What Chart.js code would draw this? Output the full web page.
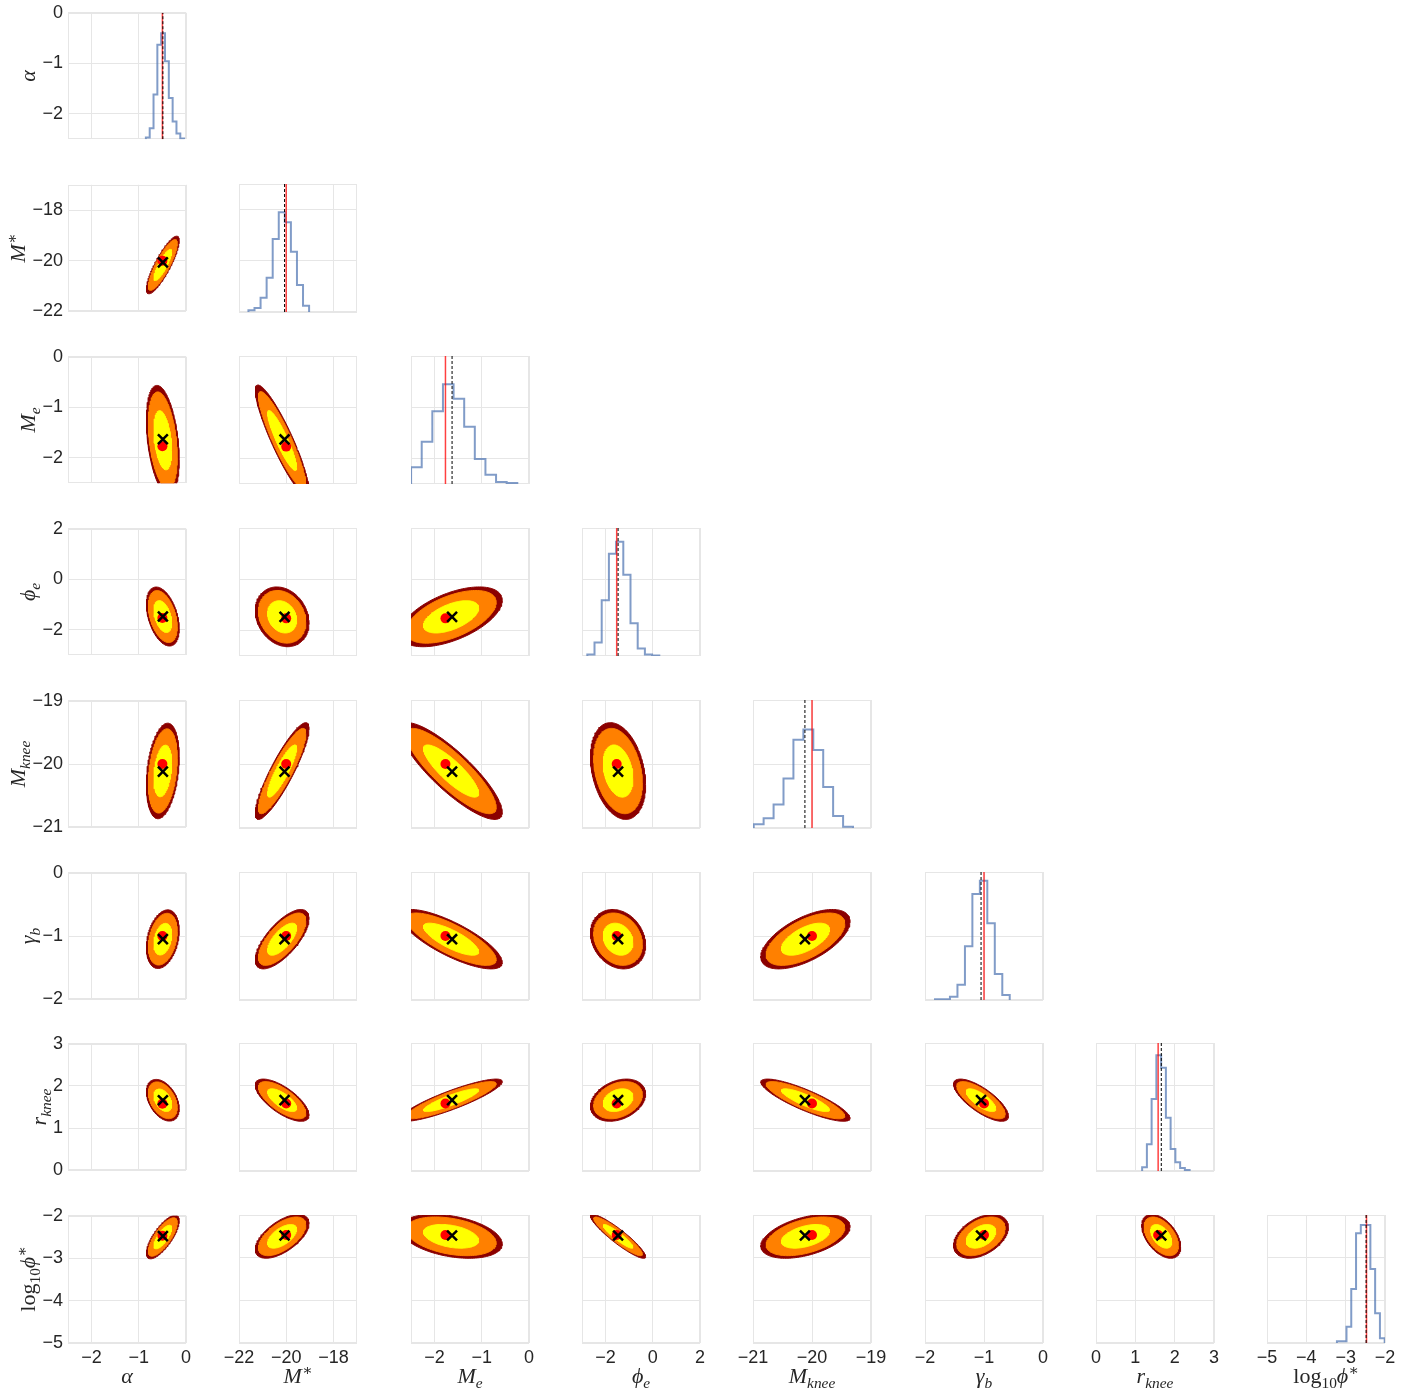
<!DOCTYPE html>
<html><head><meta charset="utf-8">
<script src="https://cdn.jsdelivr.net/npm/chart.js@4.4.1/dist/chart.umd.min.js"></script>
<style>
html,body{margin:0;padding:0;background:#fff;}
body{width:1421px;height:1389px;position:relative;overflow:hidden;}
canvas{position:absolute;}
.lab{position:absolute;font-family:'Liberation Serif','DejaVu Serif',serif;font-size:22px;line-height:22px;color:#262626;white-space:nowrap;}
.lab sub,.lab sup{font-size:0.7em;line-height:0;}
.lab sub{vertical-align:-0.3em;}
.lab sup{vertical-align:0.55em;}
.xlab{transform:translateX(-50%);}
.ylab{transform:translate(-50%,-50%) rotate(-90deg);}
</style></head>
<body>
<script>
// ---------------- data ----------------
const paramKeys = ['alpha','Mstar','Me','phie','Mknee','gammab','rknee','logphistar'];
const axisTitles = [
  '<i>α</i>',
  '<i>M</i><sup>∗</sup>',
  '<i>M</i><sub><i>e</i></sub>',
  '<i>ϕ</i><sub><i>e</i></sub>',
  '<i>M</i><sub><i>knee</i></sub>',
  '<i>γ</i><sub><i>b</i></sub>',
  '<i>r</i><sub><i>knee</i></sub>',
  'log<sub>10</sub><i>ϕ</i><sup>∗</sup>'
];
const axisMin = [-2.5, -22, -2.5, -3, -21, -2, 0, -5];
const axisMax = [0, -17, 0, 2, -19, 0, 3, -2];
const tickValues = [
  [-2, -1, 0],
  [-22, -20, -18],
  [-2, -1, 0],
  [-2, 0, 2],
  [-21, -20, -19],
  [-2, -1, 0],
  [0, 1, 2, 3],
  [-5, -4, -3, -2]
];
// true (input) values: red lines / red dots
const truthValues = [-0.5, -20.0, -1.77, -1.53, -20.0, -1.0, 1.58, -2.47];
// recovered estimates: black dashed lines / black crosses
const estimateValues = [-0.49, -20.07, -1.63, -1.47, -20.12, -1.05, 1.66, -2.48];

// marginal histograms (bin edges and relative heights)
const histEdgesAlpha = [-0.85,-0.769,-0.688,-0.607,-0.526,-0.445,-0.364,-0.283,-0.202,-0.121,-0.04];
const histCountsAlpha = [1.3, 8.6, 35.4, 74.8, 83.8, 61.7, 32.6, 14.1, 4.5, 0.5];
const histEdgesMstar = [-21.60,-21.343,-21.086,-20.829,-20.572,-20.315,-20.058,-19.801,-19.544,-19.287,-19.03];
const histCountsMstar = [1.3, 3.1, 11.2, 26.8, 57.0, 77.9, 70.1, 47.1, 21.1, 4.9];
const histEdgesMe = [-2.498,-2.273,-2.048,-1.823,-1.598,-1.373,-1.148,-0.923,-0.698,-0.473,-0.248];
const histCountsMe = [13.0, 33.0, 56.8, 77.9, 66.6, 44.8, 19.5, 7.3, 1.6, 0.8];
const histEdgesPhie = [-2.775,-2.47,-2.165,-1.86,-1.555,-1.25,-0.945,-0.64,-0.335,-0.03,0.275];
const histCountsPhie = [1.1, 10.5, 43.6, 79.8, 89.2, 63.4, 25.6, 5.9, 1.1, 0.3];
const histEdgesMknee = [-20.988,-20.82,-20.651,-20.483,-20.315,-20.146,-19.978,-19.81,-19.642,-19.473,-19.305];
const histCountsMknee = [2.9, 7.6, 18.3, 38.6, 69.0, 76.9, 60.9, 32.0, 9.4, 1.0];
const histEdgesGammab = [-1.83,-1.703,-1.577,-1.45,-1.323,-1.197,-1.07,-0.944,-0.817,-0.69,-0.564];
const histCountsGammab = [0.5, 0.5, 2.6, 11.9, 41.9, 82.8, 93.2, 60.0, 20.3, 3.9];
const histEdgesRknee = [1.173,1.294,1.414,1.535,1.656,1.777,1.897,2.018,2.139,2.259,2.38];
const histCountsRknee = [2.9, 20.9, 56.3, 90.4, 80.7, 41.6, 17.2, 6.8, 2.3, 0.8];
const histEdgesLogphi = [-3.222,-3.101,-2.979,-2.858,-2.736,-2.615,-2.494,-2.372,-2.251,-2.129,-2.008];
const histCountsLogphi = [1.3, 1.3, 12.7, 42.2, 85.7, 92.2, 92.2, 57.8, 23.2, 3.7];

// posterior summary used for the 2D credible contours
const postCenter = [-0.49, -20.17, -1.65, -1.47, -20.11, -1.05, 1.66, -2.5];
const postSigma  = [0.125, 0.41, 0.39, 0.42, 0.272, 0.167, 0.178, 0.185];
const postCorrRow1 = [0.85];
const postCorrRow2 = [-0.35, -0.9];
const postCorrRow3 = [-0.4, -0.2, 0.55];
const postCorrRow4 = [0.3, 0.88, -0.85, -0.28];
const postCorrRow5 = [0.3, 0.7, -0.78, -0.2, 0.6];
const postCorrRow6 = [-0.4, -0.7, 0.88, 0.3, -0.85, -0.75];
const postCorrRow7 = [0.75, 0.6, -0.35, -0.92, 0.45, 0.42, -0.48];
// Mahalanobis radii of the three filled levels (outer -> inner)
const contourLevels = [2.78, 2.45, 1.5];

// ---------------- assembly ----------------
const histEdges = [histEdgesAlpha, histEdgesMstar, histEdgesMe, histEdgesPhie, histEdgesMknee, histEdgesGammab, histEdgesRknee, histEdgesLogphi];
const histCounts = [histCountsAlpha, histCountsMstar, histCountsMe, histCountsPhie, histCountsMknee, histCountsGammab, histCountsRknee, histCountsLogphi];
const postCorr = [[], postCorrRow1, postCorrRow2, postCorrRow3, postCorrRow4, postCorrRow5, postCorrRow6, postCorrRow7];

const contourColors = ['#8b0000', '#ff8000', '#ffff00'];
const gridColor = '#e6e6e6';
const tickColor = '#262626';
const tickFont = {family: "'Liberation Sans', Arial, sans-serif", size: 18};
const fmt = v => (v < 0 ? '\u2212' + Math.abs(v) : String(v));

const PW = 118, PH = 128;
const panelLeft = c => Math.round(68 + c * 171.3);
const panelTop = r => Math.round(12 + r * 171.9);

function ellipsePoints(cx, cy, sx, sy, rho, rad) {
  const pts = [];
  const k = Math.sqrt(1 - rho * rho);
  const n = 140;
  for (let i = 0; i <= n; i++) {
    const t = 2 * Math.PI * i / n;
    const u = Math.cos(t), v = Math.sin(t);
    pts.push({x: cx + sx * rad * u, y: cy + sy * rad * (rho * u + k * v)});
  }
  return pts;
}

const framePlugin = {
  id: 'frame',
  beforeDatasetsDraw(chart) {
    const a = chart.chartArea, ctx = chart.ctx;
    ctx.save();
    ctx.strokeStyle = gridColor;
    ctx.lineWidth = 1;
    ctx.strokeRect(Math.round(a.left) + 0.5, Math.round(a.top) + 0.5,
                   Math.round(a.right - a.left) - 1, Math.round(a.bottom - a.top) - 1);
    ctx.restore();
  }
};

function makePanel(r, c) {
  const PL = c === 0 ? 72 : 25, PR = 25, PT = 15, PB = r === 7 ? 34 : 15;
  const cv = document.createElement('canvas');
  cv.width = PL + PW + PR;
  cv.height = PT + PH + PB;
  cv.style.left = (panelLeft(c) - PL) + 'px';
  cv.style.top = (panelTop(r) - PT) + 'px';
  document.body.appendChild(cv);

  const scales = {
    x: {
      type: 'linear', min: axisMin[c], max: axisMax[c],
      afterBuildTicks: s => { s.ticks = tickValues[c].map(v => ({value: v})); },
      afterFit: s => { s.height = PB; },
      ticks: {display: r === 7, font: tickFont, color: tickColor, padding: 4, autoSkip: false, maxRotation: 0, callback: fmt},
      grid: {color: gridColor, drawTicks: false, lineWidth: 1},
      border: {display: false}
    },
    y: {
      type: 'linear', min: axisMin[r], max: axisMax[r],
      afterBuildTicks: s => { s.ticks = tickValues[r].map(v => ({value: v})); },
      afterFit: s => { s.width = PL; },
      ticks: {display: c === 0, font: tickFont, color: tickColor, padding: 5, autoSkip: false, callback: fmt},
      grid: {color: gridColor, drawTicks: false, lineWidth: 1},
      border: {display: false}
    }
  };
  const datasets = [];
  if (r === c) {
    scales.yh = {type: 'linear', min: 0, max: 100, display: false};
    const e = histEdges[c], h = histCounts[c];
    const pts = [{x: e[0], y: 0}];
    for (let i = 0; i < h.length; i++) pts.push({x: e[i], y: h[i]});
    pts.push({x: e[h.length], y: 0});
    datasets.push({data: pts, yAxisID: 'yh', stepped: true, borderColor: 'rgba(76,114,176,0.7)', borderWidth: 2, pointRadius: 0, fill: false, order: 3});
    datasets.push({data: [{x: truthValues[c], y: 0}, {x: truthValues[c], y: 100}], yAxisID: 'yh', borderColor: 'rgba(255,0,0,0.75)', borderWidth: 1.5, pointRadius: 0, fill: false, order: 2});
    datasets.push({data: [{x: estimateValues[c], y: 0}, {x: estimateValues[c], y: 100}], yAxisID: 'yh', borderColor: '#000', borderWidth: 1, borderDash: [3, 2], pointRadius: 0, fill: false, order: 1});
  } else {
    const rho = postCorr[r][c];
    contourLevels.forEach((rad, k) => {
      datasets.push({
        data: ellipsePoints(postCenter[c], postCenter[r], postSigma[c], postSigma[r], rho, rad),
        borderColor: contourColors[k], backgroundColor: contourColors[k], borderWidth: 1,
        pointRadius: 0, fill: 'shape', tension: 0, order: 10 - k
      });
    });
    datasets.push({data: [{x: truthValues[c], y: truthValues[r]}], showLine: false, pointRadius: 5, pointBackgroundColor: '#ff0000', pointBorderWidth: 0, pointBorderColor: '#ff0000', order: 2});
    datasets.push({data: [{x: estimateValues[c], y: estimateValues[r]}], showLine: false, pointStyle: 'crossRot', pointRadius: 7, pointBorderColor: '#000', pointBorderWidth: 2.5, order: 1});
  }

  new Chart(cv, {
    type: 'line',
    data: {datasets},
    options: {
      responsive: false, animation: false, devicePixelRatio: 1, events: [],
      layout: {padding: {left: 0, top: PT, right: PR, bottom: 0}},
      scales,
      plugins: {legend: {display: false}, tooltip: {enabled: false}}
    },
    plugins: [framePlugin]
  });
}

for (let r = 0; r < 8; r++) for (let c = 0; c <= r; c++) makePanel(r, c);

// axis titles
for (let c = 0; c < 8; c++) {
  const d = document.createElement('div');
  d.className = 'lab xlab';
  d.innerHTML = axisTitles[c];
  d.style.left = (panelLeft(c) + PW / 2) + 'px';
  d.style.top = '1365px';
  document.body.appendChild(d);
}
// y titles sit a fixed gap to the left of the widest tick label of their row
const mctx = document.createElement('canvas').getContext('2d');
mctx.font = "18px 'Liberation Sans', Arial, sans-serif";
for (let r = 0; r < 8; r++) {
  const widest = Math.max(...tickValues[r].map(v => mctx.measureText(fmt(v)).width));
  const baselineX = panelLeft(0) - 5 - widest - 7;
  const d = document.createElement('div');
  d.className = 'lab ylab';
  d.innerHTML = axisTitles[r];
  d.style.left = (baselineX - 7.4) + 'px';
  d.style.top = (panelTop(r) + PH / 2) + 'px';
  document.body.appendChild(d);
}
</script>
</body></html>
